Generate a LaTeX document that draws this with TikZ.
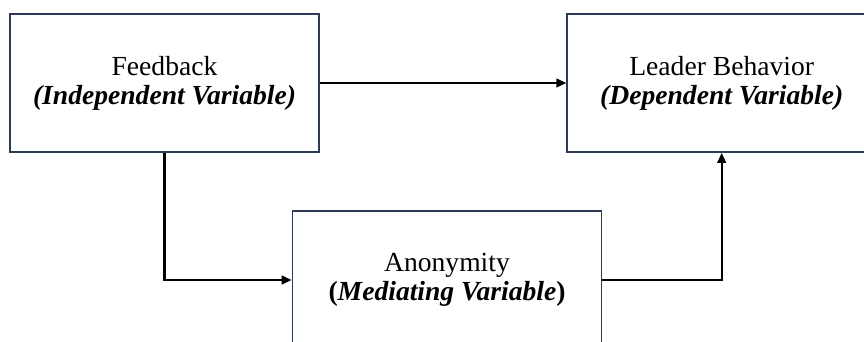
\documentclass[tikz,border=0pt]{standalone}
\usepackage{fontspec}
\setmainfont{Liberation Serif}
\usetikzlibrary{arrows.meta}
\definecolor{boxline}{RGB}{44,58,88}
\tikzset{
  varbox/.style={draw=boxline, line width=1.6pt, fill=white, minimum width=309pt, minimum height=138pt,
    align=center, inner sep=0pt, font=\fontsize{27.6}{29}\selectfont},
  conn/.style={draw=black, line width=2.4pt, -{Triangle[length=10pt,width=8.5pt]}}
}
\begin{document}
\begin{tikzpicture}[x=1pt,y=-1pt]
\clip (0,0) rectangle (864,341);
\fill[white] (0,0) rectangle (864,341);
\node[varbox] (fb) at (164.5,83) {Feedback\\\textbf{\textit{(Independent Variable)}}};
\node[varbox] (lb) at (721.7,83) {Leader Behavior\\\textbf{\textit{(Dependent Variable)}}};
\node[varbox] (an) at (447,280) {Anonymity\\\textbf{(\textit{Mediating Variable})}};
\draw[conn] (fb.east) -- (lb.west);
\draw[conn] (fb.south) |- (an.west);
\draw[conn] (an.east) -| (lb.south);
\end{tikzpicture}
\end{document}
